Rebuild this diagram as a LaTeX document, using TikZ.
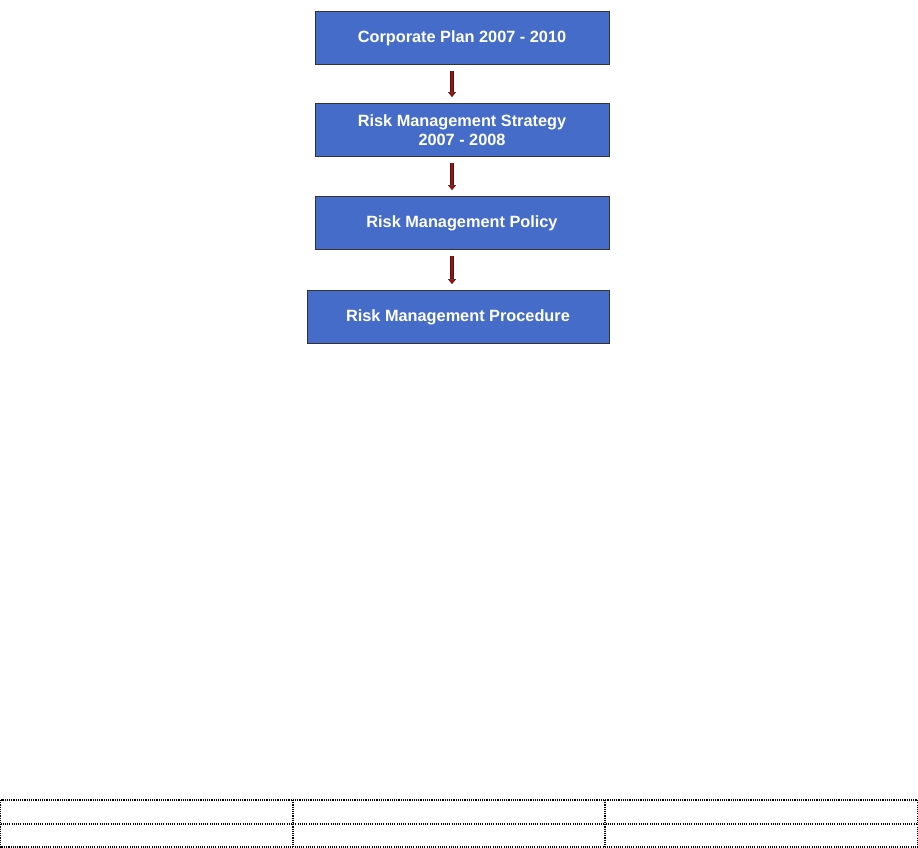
\documentclass[tikz,border=0pt]{standalone}
\usepackage{fontspec}
\setmainfont{Liberation Sans}
\usetikzlibrary{arrows.meta, positioning}
\definecolor{boxblue}{RGB}{68,108,200}
\definecolor{arrowred}{RGB}{200,0,0}

\begin{document}
\begin{tikzpicture}
  [x=1pt, y=-1pt,
   stage/.style={draw=black!80, fill=boxblue, line width=0.8pt, text=white,
     font=\bfseries\fontsize{16.3}{19}\selectfont, align=center,
     minimum height=53pt, inner sep=0pt},
   flow/.style={double=arrowred, draw=black!85, line width=0.6pt, double distance=2.6pt,
     -{Triangle[width=8pt, length=5pt, fill=arrowred]}, shorten <=6pt, shorten >=6pt},
   grid/.style={draw=black, line width=1.1pt, dash pattern=on 1.1pt off 1.1pt}]
  \useasboundingbox (0,0) rectangle (918,848);
  \node (plan) at (462,38) [stage, minimum width=294pt] {Corporate Plan 2007 - 2010};
  \node (strategy) at (462,130) [stage, minimum width=294pt] {Risk Management Strategy\\2007 - 2008};
  \node (policy) at (462,223) [stage, minimum width=294pt] {Risk Management Policy};
  \node (procedure) at (458,317) [stage, minimum width=302pt] {Risk Management Procedure};
  \draw [flow] ([xshift=-10pt]plan.south) to ([xshift=-10pt]strategy.north);
  \draw [flow] ([xshift=-10pt]strategy.south) to ([xshift=-10pt]policy.north);
  \draw [flow] ([xshift=-10pt]policy.south) to ([xshift=-10pt]policy.south |- procedure.north);
  % empty table at the foot
  \draw [grid] (0.5,800) rectangle (917.5,847);
  \draw [grid] (0.5,824) -- (917.5,824);
  \foreach \x in {293, 605}
    \draw [grid] (\x,800) -- (\x,847);
\end{tikzpicture}
\end{document}
